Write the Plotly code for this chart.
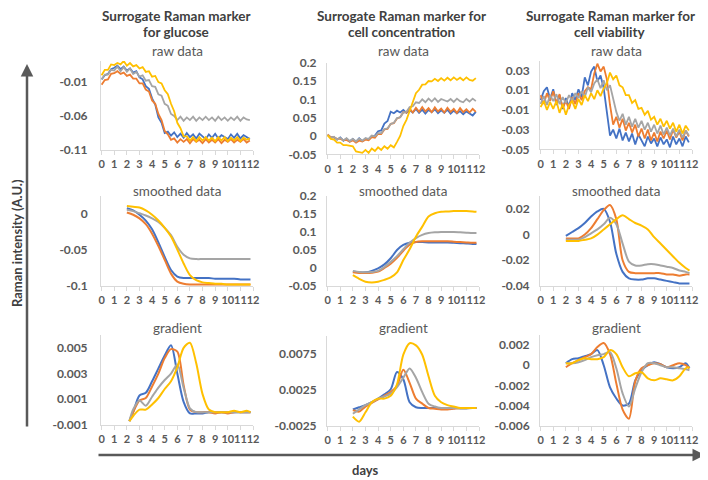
import plotly.graph_objects as go

W, H = 708, 480
COLORS = ["#4472C4", "#ED7D31", "#A5A5A5", "#FFC000"]
SERIES = ["run 1", "run 2", "run 3", "run 4"]
FONT = "Lato"

# ---------------- x values (days) ----------------
days_raw = [0, 0.25, 0.5, 0.75, 1, 1.25, 1.5, 1.75, 2, 2.25, 2.5, 2.75, 3, 3.25, 3.5, 3.75,
            4, 4.25, 4.5, 4.75, 5, 5.25, 5.5, 5.75, 6, 6.25, 6.5, 6.75, 7, 7.25, 7.5, 7.75,
            8, 8.25, 8.5, 8.75, 9, 9.25, 9.5, 9.75, 10, 10.25, 10.5, 10.75, 11, 11.25, 11.5, 11.75]
days_smooth = [2, 2.5, 3, 3.5, 4, 4.5, 5, 5.5, 6, 6.5, 7, 7.5, 8, 8.5, 9, 9.5, 10, 10.5, 11, 11.5, 11.8]
days_grad_glucose = [2.2, 2.5, 3, 3.5, 4, 4.5, 5, 5.5, 6, 6.5, 7, 7.5, 8, 8.5, 9, 9.5, 10, 10.5, 11, 11.5, 11.8]
day_ticks = [0, 1, 2, 3, 4, 5, 6, 7, 8, 9, 10, 11, 12]

# ---------------- glucose: raw ----------------
glucose_raw_blue = [-0.006, 0.000, 0.002, 0.009, 0.011, 0.014, 0.009, 0.013, 0.007, 0.010, 0.004, 0.006,
                    -0.003, -0.006, -0.016, -0.020, -0.034, -0.043, -0.062, -0.070, -0.085, -0.083, -0.089, -0.084,
                    -0.091, -0.086, -0.092, -0.085, -0.091, -0.087, -0.093, -0.086, -0.090, -0.094, -0.087, -0.092,
                    -0.086, -0.093, -0.088, -0.091, -0.094, -0.087, -0.092, -0.086, -0.093, -0.088, -0.091, -0.094]
glucose_raw_orange = [-0.014, -0.007, -0.006, 0.002, 0.003, 0.006, 0.002, 0.004, -0.001, 0.001, -0.005, -0.005,
                      -0.012, -0.012, -0.021, -0.024, -0.037, -0.042, -0.057, -0.066, -0.082, -0.087, -0.095, -0.093,
                      -0.099, -0.094, -0.098, -0.094, -0.100, -0.094, -0.098, -0.095, -0.100, -0.094, -0.099, -0.095,
                      -0.099, -0.094, -0.100, -0.095, -0.098, -0.094, -0.099, -0.095, -0.098, -0.094, -0.099, -0.096]
glucose_raw_gray = [-0.006, 0.001, 0.001, 0.008, 0.007, 0.013, 0.006, 0.012, 0.005, 0.010, 0.002, 0.005,
                    -0.002, 0.000, -0.008, -0.007, -0.016, -0.017, -0.028, -0.030, -0.042, -0.045, -0.057, -0.060,
                    -0.066, -0.061, -0.067, -0.062, -0.066, -0.061, -0.067, -0.062, -0.066, -0.061, -0.066, -0.062,
                    -0.067, -0.061, -0.066, -0.062, -0.067, -0.062, -0.066, -0.061, -0.067, -0.062, -0.065, -0.066]
glucose_raw_yellow = [0.000, 0.008, 0.008, 0.016, 0.015, 0.018, 0.016, 0.021, 0.014, 0.018, 0.013, 0.015,
                      0.010, 0.012, 0.005, 0.006, -0.002, -0.001, -0.010, -0.012, -0.022, -0.028, -0.042, -0.053,
                      -0.070, -0.078, -0.090, -0.090, -0.096, -0.091, -0.097, -0.091, -0.096, -0.091, -0.096, -0.092,
                      -0.097, -0.091, -0.096, -0.091, -0.097, -0.092, -0.096, -0.091, -0.097, -0.092, -0.095, -0.093]

# ---------------- cell concentration: raw ----------------
conc_raw_blue = [0.003, -0.004, -0.003, -0.010, -0.004, -0.013, -0.007, -0.015, -0.008, -0.016, -0.006, -0.014,
                 -0.007, -0.009, 0.000, 0.001, 0.013, 0.015, 0.034, 0.041, 0.066, 0.062, 0.069, 0.064,
                 0.071, 0.063, 0.070, 0.064, 0.074, 0.063, 0.072, 0.061, 0.071, 0.065, 0.073, 0.062,
                 0.070, 0.063, 0.072, 0.061, 0.069, 0.062, 0.068, 0.059, 0.067, 0.061, 0.056, 0.066]
conc_raw_orange = [0.004, -0.003, -0.004, -0.008, -0.008, -0.011, -0.011, -0.016, -0.012, -0.018, -0.013, -0.015,
                   -0.010, -0.012, -0.003, -0.005, 0.006, 0.005, 0.018, 0.019, 0.033, 0.035, 0.048, 0.051,
                   0.065, 0.064, 0.075, 0.064, 0.077, 0.066, 0.079, 0.067, 0.076, 0.065, 0.078, 0.067,
                   0.075, 0.064, 0.077, 0.066, 0.074, 0.063, 0.076, 0.065, 0.073, 0.064, 0.074, 0.066]
conc_raw_gray = [0.003, -0.005, -0.002, -0.010, -0.005, -0.012, -0.006, -0.014, -0.008, -0.015, -0.007, -0.013,
                 -0.006, -0.008, 0.001, -0.001, 0.008, 0.008, 0.019, 0.021, 0.033, 0.036, 0.049, 0.051,
                 0.064, 0.066, 0.079, 0.081, 0.092, 0.090, 0.100, 0.092, 0.102, 0.094, 0.103, 0.093,
                 0.101, 0.098, 0.094, 0.101, 0.093, 0.102, 0.095, 0.092, 0.101, 0.094, 0.102, 0.095]
conc_raw_yellow = [0.002, -0.008, -0.010, -0.018, -0.018, -0.025, -0.025, -0.027, -0.028, -0.042, -0.044, -0.046,
                   -0.038, -0.046, -0.034, -0.041, -0.031, -0.038, -0.028, -0.035, -0.025, -0.031, -0.016, 0.000,
                   0.027, 0.044, 0.068, 0.090, 0.117, 0.126, 0.140, 0.141, 0.150, 0.149, 0.156, 0.150,
                   0.158, 0.151, 0.159, 0.152, 0.160, 0.153, 0.159, 0.152, 0.160, 0.153, 0.151, 0.158]

# ---------------- cell viability: raw ----------------
viab_raw_blue = [0.000, 0.009, 0.013, 0.001, 0.011, -0.005, 0.005, -0.009, 0.002, -0.007, 0.007, 0.000,
                 0.011, 0.003, 0.023, 0.015, 0.029, 0.034, 0.019, 0.025, 0.012, -0.010, -0.036, -0.030,
                 -0.039, -0.029, -0.041, -0.033, -0.042, -0.034, -0.045, -0.035, -0.041, -0.047, -0.037, -0.044,
                 -0.039, -0.047, -0.038, -0.045, -0.040, -0.048, -0.037, -0.045, -0.039, -0.047, -0.037, -0.043]
viab_raw_orange = [0.005, -0.004, 0.007, -0.001, 0.009, -0.003, 0.006, -0.008, -0.001, -0.009, 0.003, -0.004,
                   0.007, 0.000, 0.009, 0.013, 0.011, 0.027, 0.037, 0.029, 0.034, 0.021, -0.005, -0.025,
                   -0.017, -0.028, -0.019, -0.031, -0.023, -0.033, -0.025, -0.037, -0.029, -0.039, -0.030, -0.041,
                   -0.033, -0.042, -0.032, -0.039, -0.031, -0.040, -0.030, -0.038, -0.032, -0.041, -0.031, -0.037]
viab_raw_gray = [-0.004, 0.004, -0.005, 0.005, -0.001, 0.006, -0.004, 0.003, -0.003, 0.005, -0.001, 0.007,
                 0.002, 0.009, 0.003, 0.013, 0.008, 0.017, 0.021, 0.012, 0.020, 0.010, 0.015, 0.002,
                 -0.012, -0.021, -0.014, -0.025, -0.017, -0.027, -0.019, -0.028, -0.021, -0.030, -0.023, -0.032,
                 -0.025, -0.034, -0.026, -0.035, -0.028, -0.036, -0.029, -0.037, -0.030, -0.038, -0.031, -0.036]
viab_raw_yellow = [-0.007, -0.001, -0.010, -0.002, -0.009, -0.001, -0.013, -0.004, -0.015, -0.005, -0.001, -0.009,
                   0.001, -0.005, 0.005, -0.001, 0.007, 0.001, 0.010, 0.004, 0.012, 0.017, 0.028, 0.021,
                   0.025, 0.015, 0.013, 0.005, 0.005, -0.003, 0.000, -0.009, -0.008, -0.015, -0.011, -0.020,
                   -0.017, -0.025, -0.019, -0.027, -0.021, -0.029, -0.023, -0.032, -0.025, -0.034, -0.026, -0.031]

# ---------------- smoothed data ----------------
glucose_smooth_blue = [0.007, 0.004, -0.002, -0.010, -0.022, -0.040, -0.060, -0.078, -0.087, -0.089, -0.089,
                       -0.089, -0.089, -0.089, -0.090, -0.090, -0.090, -0.090, -0.091, -0.091, -0.091]
glucose_smooth_orange = [0.001, -0.002, -0.007, -0.015, -0.028, -0.045, -0.064, -0.083, -0.094, -0.097, -0.098,
                         -0.098, -0.098, -0.098, -0.098, -0.098, -0.098, -0.098, -0.098, -0.098, -0.098]
glucose_smooth_gray = [0.005, 0.003, 0.000, -0.003, -0.007, -0.012, -0.020, -0.030, -0.046, -0.057, -0.062,
                       -0.063, -0.063, -0.063, -0.063, -0.063, -0.063, -0.063, -0.063, -0.063, -0.063]
glucose_smooth_yellow = [0.010, 0.009, 0.008, 0.004, -0.002, -0.010, -0.020, -0.032, -0.050, -0.069, -0.085,
                         -0.092, -0.095, -0.096, -0.097, -0.097, -0.098, -0.098, -0.098, -0.098, -0.098]

conc_smooth_blue = [-0.010, -0.012, -0.012, -0.008, -0.001, 0.010, 0.027, 0.050, 0.064, 0.070, 0.072,
                    0.072, 0.071, 0.071, 0.071, 0.071, 0.070, 0.069, 0.068, 0.067, 0.067]
conc_smooth_orange = [-0.012, -0.014, -0.014, -0.013, -0.010, 0.000, 0.012, 0.028, 0.048, 0.065, 0.072,
                      0.074, 0.074, 0.074, 0.074, 0.074, 0.073, 0.072, 0.071, 0.070, 0.070]
conc_smooth_gray = [-0.008, -0.011, -0.012, -0.011, -0.008, 0.003, 0.017, 0.033, 0.052, 0.070, 0.083,
                    0.092, 0.097, 0.099, 0.100, 0.100, 0.100, 0.099, 0.098, 0.097, 0.097]
conc_smooth_yellow = [-0.020, -0.030, -0.038, -0.040, -0.038, -0.033, -0.026, -0.012, 0.022, 0.052, 0.087,
                      0.115, 0.143, 0.152, 0.156, 0.157, 0.158, 0.158, 0.158, 0.157, 0.156]

viab_smooth_blue = [-0.001, 0.002, 0.005, 0.009, 0.014, 0.018, 0.020, 0.010, -0.015, -0.029, -0.034,
                    -0.035, -0.035, -0.034, -0.034, -0.035, -0.036, -0.037, -0.038, -0.038, -0.038]
viab_smooth_orange = [-0.003, -0.003, -0.003, 0.000, 0.005, 0.012, 0.019, 0.023, 0.012, -0.020, -0.029,
                      -0.030, -0.030, -0.030, -0.030, -0.030, -0.031, -0.031, -0.032, -0.031, -0.031]
viab_smooth_gray = [-0.004, -0.004, -0.004, -0.002, 0.001, 0.004, 0.008, 0.013, 0.008, -0.007, -0.021,
                    -0.024, -0.024, -0.023, -0.023, -0.024, -0.025, -0.026, -0.028, -0.029, -0.030]
viab_smooth_yellow = [-0.005, -0.005, -0.005, -0.004, -0.003, 0.000, 0.004, 0.008, 0.012, 0.015, 0.012,
                      0.009, 0.007, 0.004, -0.002, -0.007, -0.012, -0.017, -0.022, -0.026, -0.028]

# ---------------- gradient ----------------
glucose_grad_blue = [-0.0007, 0.0000, 0.0013, 0.0015, 0.0024, 0.0034, 0.0044, 0.0052, 0.0030, 0.0008, -0.0001,
                     -0.0001, -0.0001, 0.0000, 0.0000, 0.0000, 0.0000, 0.0000, 0.0000, 0.0000, 0.0000]
glucose_grad_orange = [-0.0007, 0.0000, 0.0009, 0.0011, 0.0020, 0.0030, 0.0042, 0.0049, 0.0047, 0.0021, 0.0002,
                       0.0000, 0.0000, 0.0000, -0.0001, 0.0000, -0.0001, 0.0000, 0.0000, 0.0000, 0.0000]
glucose_grad_gray = [-0.0007, 0.0002, 0.0009, 0.0005, 0.0012, 0.0019, 0.0025, 0.0030, 0.0037, 0.0019, 0.0003,
                     0.0000, 0.0000, 0.0000, 0.0000, 0.0000, 0.0000, 0.0000, 0.0000, 0.0000, 0.0000]
glucose_grad_yellow = [-0.0007, -0.0003, 0.0002, 0.0002, 0.0006, 0.0011, 0.0018, 0.0024, 0.0035, 0.0050, 0.0054,
                       0.0038, 0.0014, 0.0002, 0.0000, 0.0000, 0.0000, 0.0001, 0.0000, 0.0001, 0.0000]

conc_grad_blue = [-0.0002, 0.0001, 0.0004, 0.0008, 0.0013, 0.0019, 0.0026, 0.0050, 0.0040, 0.0008, 0.0001,
                  0.0000, 0.0000, 0.0000, 0.0000, 0.0000, 0.0000, 0.0000, 0.0000, 0.0000, 0.0000]
conc_grad_orange = [-0.0003, -0.0005, 0.0002, 0.0007, 0.0012, 0.0017, 0.0022, 0.0031, 0.0053, 0.0035, 0.0013,
                    0.0006, 0.0000, -0.0001, -0.0002, -0.0002, -0.0001, 0.0000, 0.0000, 0.0000, 0.0000]
conc_grad_gray = [-0.0008, -0.0002, 0.0004, 0.0008, 0.0013, 0.0016, 0.0020, 0.0029, 0.0042, 0.0055, 0.0042,
                  0.0022, 0.0006, 0.0002, 0.0000, 0.0000, 0.0000, -0.0001, -0.0001, 0.0000, 0.0000]
conc_grad_yellow = [-0.0012, -0.0019, -0.0006, 0.0008, 0.0013, 0.0013, 0.0017, 0.0033, 0.0074, 0.0090, 0.0087,
                    0.0074, 0.0044, 0.0017, 0.0008, 0.0004, 0.0002, 0.0000, 0.0000, 0.0000, 0.0000]

viab_grad_blue = [0.0002, 0.0006, 0.0007, 0.0009, 0.0011, 0.0015, 0.0000, -0.0022, -0.0033, -0.0040, -0.0038,
                  -0.0015, -0.0005, 0.0000, 0.0003, 0.0001, -0.0002, -0.0003, -0.0002, 0.0002, -0.0003]
viab_grad_orange = [-0.0002, 0.0002, 0.0005, 0.0008, 0.0011, 0.0018, 0.0022, 0.0011, -0.0018, -0.0044, -0.0053,
                    -0.0016, -0.0003, 0.0000, 0.0002, 0.0001, -0.0002, 0.0000, 0.0002, 0.0000, -0.0003]
viab_grad_gray = [0.0002, 0.0002, 0.0003, 0.0005, 0.0008, 0.0010, 0.0011, 0.0013, -0.0003, -0.0028, -0.0041,
                  -0.0023, -0.0007, 0.0002, 0.0002, 0.0000, -0.0002, -0.0002, -0.0003, -0.0004, -0.0005]
viab_grad_yellow = [0.0002, 0.0002, 0.0005, 0.0007, 0.0006, 0.0006, 0.0008, 0.0015, 0.0011, -0.0002, -0.0011,
                    -0.0008, -0.0007, -0.0013, -0.0015, -0.0013, -0.0014, -0.0015, -0.0011, -0.0003, -0.0002]

# ---------------- y tick labels ----------------
ticks_glucose_raw = ["-0.11", "-0.06", "-0.01"]
ticks_conc_raw = ["-0.05", "0", "0.05", "0.1", "0.15", "0.2"]
ticks_viab_raw = ["-0.05", "-0.03", "-0.01", "0.01", "0.03"]
ticks_glucose_smooth = ["-0.1", "-0.05", "0"]
ticks_conc_smooth = ["-0.05", "0", "0.05", "0.1", "0.15", "0.2"]
ticks_viab_smooth = ["-0.04", "-0.02", "0", "0.02"]
ticks_glucose_grad = ["-0.001", "0.001", "0.003", "0.005"]
ticks_conc_grad = ["-0.0025", "0.0025", "0.0075"]
ticks_viab_grad = ["-0.006", "-0.004", "-0.002", "0", "0.002"]

col_titles = [["Surrogate Raman marker", "for glucose"],
              ["Surrogate Raman marker for", "cell concentration"],
              ["Surrogate Raman marker for", "cell viability"]]
row_titles = ["raw data", "smoothed data", "gradient"]

# ---------------- layout geometry (target pixels; page body adds an 8px offset) ----------------
OFF = 8


def px_x(px):
    return (px - OFF) / W


def px_y(py):
    return 1 - (py - OFF) / H


col_px = [(101, 253), (327, 479), (540, 692)]
col_title_x = [176, 401, 610]

panels = [
    (0, 0, days_raw, [glucose_raw_blue, glucose_raw_orange, glucose_raw_gray, glucose_raw_yellow],
     [-0.11, 0.021], ticks_glucose_raw, (61, 150), False),
    (0, 1, days_raw, [conc_raw_blue, conc_raw_orange, conc_raw_gray, conc_raw_yellow],
     [-0.05, 0.2], ticks_conc_raw, (62.7, 154.3), False),
    (0, 2, days_raw, [viab_raw_blue, viab_raw_orange, viab_raw_gray, viab_raw_yellow],
     [-0.05, 0.04], ticks_viab_raw, (60.7, 149.3), False),
    (1, 0, days_smooth, [glucose_smooth_blue, glucose_smooth_orange, glucose_smooth_gray, glucose_smooth_yellow],
     [-0.1, 0.0238], ticks_glucose_smooth, (196, 286), True),
    (1, 1, days_smooth, [conc_smooth_blue, conc_smooth_orange, conc_smooth_gray, conc_smooth_yellow],
     [-0.05, 0.2], ticks_conc_smooth, (196, 286), True),
    (1, 2, days_smooth, [viab_smooth_blue, viab_smooth_orange, viab_smooth_gray, viab_smooth_yellow],
     [-0.04, 0.03], ticks_viab_smooth, (196, 286), True),
    (2, 0, days_grad_glucose, [glucose_grad_blue, glucose_grad_orange, glucose_grad_gray, glucose_grad_yellow],
     [-0.001, 0.006], ticks_glucose_grad, (335, 425), True),
    (2, 1, days_smooth, [conc_grad_blue, conc_grad_orange, conc_grad_gray, conc_grad_yellow],
     [-0.0025, 0.01], ticks_conc_grad, (336, 426), True),
    (2, 2, days_smooth, [viab_grad_blue, viab_grad_orange, viab_grad_gray, viab_grad_yellow],
     [-0.006, 0.003], ticks_viab_grad, (335, 425.7), True),
]
row_title_y = [51, 191, 328]

fig = go.Figure()
AXIS_GRAY = "#D9D9D9"
TICK_FONT_COLOR = "#595959"

for i, (r, c, xs, series, yr, yt, (ptop, pbot), spline) in enumerate(panels):
    n = i + 1
    xa = "x" if n == 1 else f"x{n}"
    ya = "y" if n == 1 else f"y{n}"
    for name, s, colr in zip(SERIES, series, COLORS):
        line = dict(color=colr, width=2)
        if spline:
            line["shape"] = "spline"
            line["smoothing"] = 0.8
        else:
            line["width"] = 1.8
        fig.add_trace(go.Scatter(x=xs, y=s, xaxis=xa, yaxis=ya, mode="lines", name=name,
                                 line=line, showlegend=False, hoverinfo="skip"))
    x0, x1 = col_px[c]
    fig.layout["xaxis" + ("" if n == 1 else str(n))] = dict(
        domain=[px_x(x0), px_x(x1)], anchor=ya, range=[-0.05, 12.0],
        tickmode="array", tickvals=day_ticks, ticktext=[str(d) for d in day_ticks],
        tickangle=0, automargin=False,
        showline=True, linecolor=AXIS_GRAY, linewidth=1, ticks="outside", ticklen=4,
        tickcolor=AXIS_GRAY, showgrid=False, zeroline=False, fixedrange=True,
        tickfont=dict(family=FONT, size=11, color=TICK_FONT_COLOR, weight="bold"))
    fig.layout["yaxis" + ("" if n == 1 else str(n))] = dict(
        domain=[px_y(pbot), px_y(ptop)], anchor=xa, range=yr, automargin=False,
        tickmode="array", tickvals=[float(t) for t in yt], ticktext=yt,
        showline=True, linecolor=AXIS_GRAY, linewidth=1, ticks="outside",
        ticklen=(10 if c == 0 else 7), tickcolor="rgba(0,0,0,0)",
        showgrid=False, zeroline=False, fixedrange=True,
        tickfont=dict(family=FONT, size=12, color=TICK_FONT_COLOR, weight="bold"))

annotations = []
for c in range(3):
    for k, line_txt in enumerate(col_titles[c]):
        annotations.append(dict(x=px_x(col_title_x[c]), y=px_y(16 + 16 * k), xref="paper", yref="paper",
                                text=line_txt, showarrow=False, xanchor="center", yanchor="middle",
                                borderpad=0,
                                font=dict(family=FONT, size=13.5, color="#404040", weight="bold")))
    cx = (col_px[c][0] + col_px[c][1]) / 2
    for r in range(3):
        annotations.append(dict(x=px_x(cx), y=px_y(row_title_y[r]), xref="paper", yref="paper",
                                text=row_titles[r], showarrow=False, xanchor="center", yanchor="middle",
                                borderpad=0,
                                font=dict(family=FONT, size=13.5, color="#595959")))

# axis arrows and labels
annotations.append(dict(x=px_x(27), y=px_y(64), xref="paper", yref="paper", ax=0, ay=364,
                        axref="pixel", ayref="pixel", text="", showarrow=True, arrowhead=2,
                        arrowsize=1, arrowwidth=2.5, arrowcolor="#595959"))
annotations.append(dict(x=px_x(705), y=px_y(455), xref="paper", yref="paper", ax=-608, ay=0,
                        axref="pixel", ayref="pixel", text="", showarrow=True, arrowhead=2,
                        arrowsize=1, arrowwidth=2.5, arrowcolor="#595959"))
annotations.append(dict(x=px_x(17), y=px_y(243), xref="paper", yref="paper", text="Raman intensity (A.U.)",
                        textangle=-90, showarrow=False, xanchor="center", yanchor="middle",
                        font=dict(family=FONT, size=13, color="#404040", weight="bold")))
annotations.append(dict(x=px_x(366), y=px_y(470), xref="paper", yref="paper", text="days",
                        showarrow=False, xanchor="center", yanchor="middle",
                        font=dict(family=FONT, size=13, color="#404040", weight="bold")))

fig.update_layout(width=W, height=H, margin=dict(l=0, r=0, t=0, b=0, autoexpand=False),
                  paper_bgcolor="white", plot_bgcolor="white", showlegend=False,
                  annotations=annotations, font=dict(family=FONT))

fig.write_html("out.html")
